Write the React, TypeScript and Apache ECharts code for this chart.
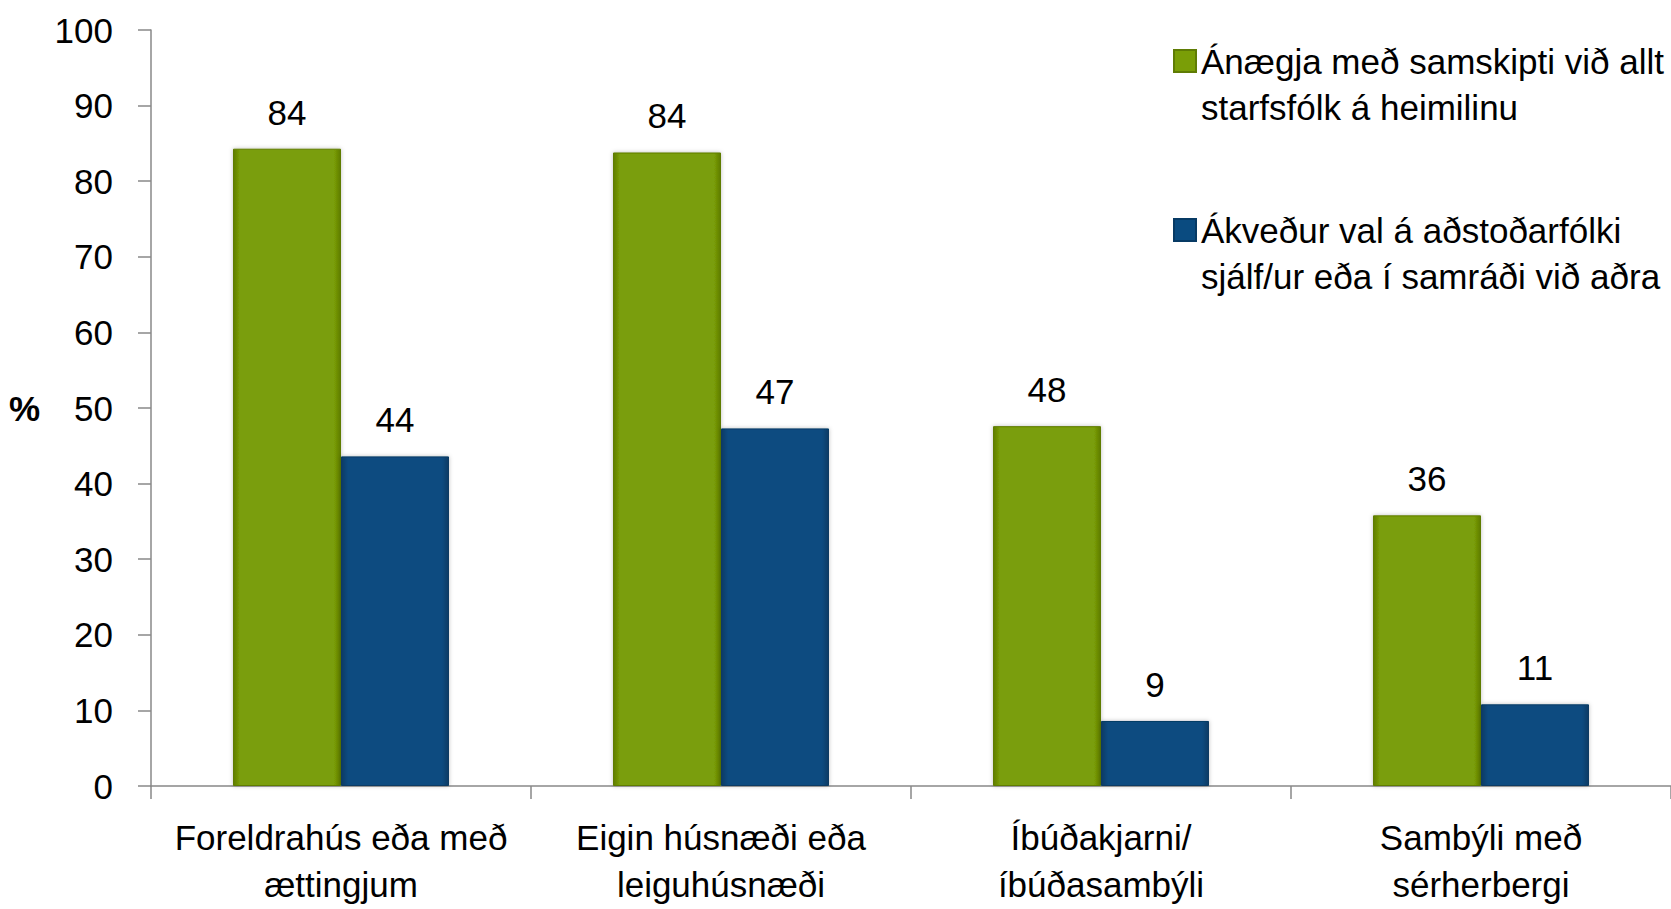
import React, { useEffect, useRef } from "react";
import * as echarts from "echarts";

const categories = [
  "Foreldrahús eða með\nættingjum",
  "Eigin húsnæði eða\nleiguhúsnæði",
  "Íbúðakjarni/\níbúðasambýli",
  "Sambýli með\nsérherbergi",
];
const seriesNames = [
  "Ánægja með samskipti við allt\nstarfsfólk á heimilinu",
  "Ákveður val á aðstoðarfólki\nsjálf/ur eða í samráði við aðra",
];
const satisfaction = [84.3, 83.8, 47.6, 35.8];
const chooseStaff = [43.6, 47.3, 8.6, 10.8];
const yTicks = { min: 0, max: 100, interval: 10 };

const FONT = "'Liberation Sans', Arial, sans-serif";
const FS = 35;
const GREEN = "#7a9e07";
const GREEN_DARK = "#5f7c04";
const BLUE = "#0a4b80";
const BLUE_DARK = "#073a64";

function barFill(main: string, dark: string) {
  return new echarts.graphic.LinearGradient(0, 0, 1, 0, [
    { offset: 0, color: dark },
    { offset: 0.06, color: main },
    { offset: 0.94, color: main },
    { offset: 1, color: dark },
  ]);
}

export default function App() {
  const ref = useRef<HTMLDivElement>(null);
  useEffect(() => {
    if (!ref.current) return;
    const chart = echarts.init(ref.current, undefined, { renderer: "svg" });
    const labelCfg = {
      show: true,
      position: "top",
      distance: 19,
      color: "#000",
      fontFamily: FONT,
      fontSize: FS,
      formatter: (p: any) => String(Math.round(p.value)),
    };
    chart.setOption({
      animation: false,
      backgroundColor: "#fff",
      grid: {
        left: 151,
        right: 0,
        top: 30,
        bottom: 123,
        containLabel: false,
        outerBoundsMode: "none",
      },
      legend: {
        orient: "vertical",
        left: 1168,
        top: -13,
        itemWidth: 22,
        itemHeight: 22,
        itemGap: 31,
        icon: "rect",
        selectedMode: false,
        formatter: (name: string) => "\n" + name,
        textStyle: {
          fontFamily: FONT,
          fontSize: FS,
          color: "#000",
          lineHeight: 46,
        },
        data: [
          { name: seriesNames[0], itemStyle: { color: GREEN } },
          { name: seriesNames[1], itemStyle: { color: BLUE } },
        ],
      },
      xAxis: {
        type: "category",
        data: categories,
        axisLine: { lineStyle: { color: "#888", width: 1.5 } },
        axisTick: { show: true, length: 13, lineStyle: { color: "#888", width: 1.5 } },
        axisLabel: {
          color: "#000",
          fontFamily: FONT,
          fontSize: FS,
          lineHeight: 47,
          margin: 28,
          interval: 0,
        },
      },
      yAxis: {
        type: "value",
        min: yTicks.min,
        max: yTicks.max,
        interval: yTicks.interval,
        name: "%",
        nameLocation: "middle",
        nameRotate: 0,
        nameGap: 111,
        nameTextStyle: { color: "#000", fontFamily: FONT, fontSize: FS, fontWeight: "bold" },
        splitLine: { show: false },
        axisLine: { show: true, lineStyle: { color: "#888", width: 1.5 } },
        axisTick: { show: true, length: 13, lineStyle: { color: "#888", width: 1.5 } },
        axisLabel: { color: "#000", fontFamily: FONT, fontSize: FS, margin: 38 },
      },
      series: [
        {
          name: seriesNames[0],
          type: "bar",
          data: satisfaction,
          barWidth: 108,
          barGap: "0%",
          itemStyle: {
            color: barFill(GREEN, GREEN_DARK),
            borderColor: GREEN_DARK,
            borderWidth: 1,
            shadowColor: "rgba(0,0,0,0.25)",
            shadowBlur: 4,
          },
          label: labelCfg,
        },
        {
          name: seriesNames[1],
          type: "bar",
          data: chooseStaff,
          barWidth: 108,
          itemStyle: {
            color: barFill(BLUE, BLUE_DARK),
            borderColor: BLUE_DARK,
            borderWidth: 1,
            shadowColor: "rgba(0,0,0,0.25)",
            shadowBlur: 4,
          },
          label: labelCfg,
        },
      ],
    });
    return () => chart.dispose();
  }, []);
  return (
    <div
      ref={ref}
      style={{ position: "absolute", left: 0, top: 0, width: 1671, height: 909 }}
    />
  );
}
